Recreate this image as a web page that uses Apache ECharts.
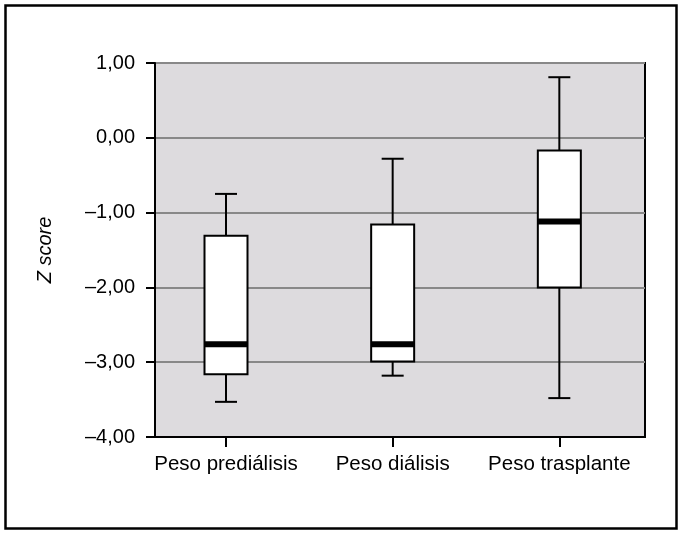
<!DOCTYPE html>
<html>
<head>
<meta charset="utf-8">
<script src="https://cdn.jsdelivr.net/npm/echarts@6/dist/echarts.min.js"></script>
<style>html,body{margin:0;padding:0;background:#fff;}#c{width:679px;height:533px;}</style>
</head>
<body>
<div id="c"></div>
<script>
const categories = ['Peso prediálisis', 'Peso diálisis', 'Peso trasplante'];
const whiskerLow = [-3.53, -3.18, -3.48];
const q1 = [-3.16, -2.99, -2.00];
const median = [-2.76, -2.76, -1.12];
const q3 = [-1.31, -1.16, -0.17];
const whiskerHigh = [-0.75, -0.28, 0.81];
const yTicks = [-4, -3, -2, -1, 0, 1];

const data = categories.map((c, i) => [i, whiskerLow[i], q1[i], median[i], q3[i], whiskerHigh[i]]);
const FONT = '"Liberation Sans", Arial, Helvetica, sans-serif';

const chart = echarts.init(document.getElementById('c'), null, {renderer: 'canvas'});
chart.setOption({
  animation: false,
  backgroundColor: '#ffffff',
  graphic: [{
    type: 'rect', left: 3, top: 3,
    shape: {x: 0, y: 0, width: 671, height: 523},
    style: {fill: 'none', stroke: '#000', lineWidth: 2.5},
    silent: true, z: 100
  }],
  grid: {
    left: 155, top: 63, right: 34, bottom: 96,
    show: true, backgroundColor: '#dddbde', borderColor: '#000', borderWidth: 2
  },
  xAxis: {
    type: 'value', min: -0.426, max: 2.514,
    splitLine: {show: false},
    axisLine: {show: true, onZero: false, lineStyle: {color: '#000', width: 2}},
    axisTick: {show: true, customValues: [0, 1, 2], length: 10, lineStyle: {color: '#000', width: 2}},
    axisLabel: {
      customValues: [0, 1, 2], margin: 17,
      formatter: v => categories[Math.round(v)],
      color: '#000', fontSize: 20.5, fontFamily: FONT
    }
  },
  yAxis: {
    type: 'value', min: -4, max: 1, interval: 1,
    data: yTicks,
    name: 'Z score', nameLocation: 'middle', nameGap: 100,
    nameTextStyle: {fontStyle: 'italic', fontSize: 20, fontFamily: FONT, color: '#000'},
    axisLine: {show: true, onZero: false, lineStyle: {color: '#000', width: 2}},
    axisTick: {show: true, length: 9, lineStyle: {color: '#000', width: 2}},
    splitLine: {show: true, lineStyle: {color: '#888888', width: 2}},
    axisLabel: {
      margin: 20, color: '#000', fontSize: 20, fontFamily: FONT,
      formatter: v => (v < 0 ? '\u2013' : '') + Math.abs(v).toFixed(2).replace('.', ',')
    }
  },
  series: [{
    type: 'custom',
    data: data,
    encode: {x: 0, y: [1, 2, 3, 4, 5]},
    z: 10,
    renderItem: function (params, api) {
      const i = api.value(0);
      const cx = api.coord([i, 0])[0];
      const yLo = api.coord([i, api.value(1)])[1];
      const yQ1 = api.coord([i, api.value(2)])[1];
      const yMed = api.coord([i, api.value(3)])[1];
      const yQ3 = api.coord([i, api.value(4)])[1];
      const yHi = api.coord([i, api.value(5)])[1];
      const bw = 43, cw = 22;
      const ls = {stroke: '#000', lineWidth: 2};
      return {
        type: 'group',
        children: [
          {type: 'line', shape: {x1: cx, y1: yHi, x2: cx, y2: yQ3}, style: ls},
          {type: 'line', shape: {x1: cx - cw / 2, y1: yHi, x2: cx + cw / 2, y2: yHi}, style: ls},
          {type: 'line', shape: {x1: cx, y1: yQ1, x2: cx, y2: yLo}, style: ls},
          {type: 'line', shape: {x1: cx - cw / 2, y1: yLo, x2: cx + cw / 2, y2: yLo}, style: ls},
          {type: 'rect', shape: {x: cx - bw / 2, y: yQ3, width: bw, height: yQ1 - yQ3},
            style: {fill: '#fff', stroke: '#000', lineWidth: 2}},
          {type: 'line', shape: {x1: cx - bw / 2, y1: yMed, x2: cx + bw / 2, y2: yMed},
            style: {stroke: '#000', lineWidth: 6}}
        ]
      };
    }
  }]
});
</script>
</body>
</html>
